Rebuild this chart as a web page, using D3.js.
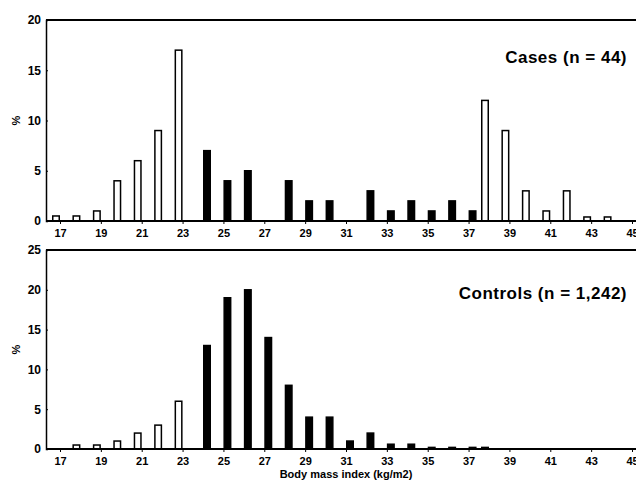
<!DOCTYPE html>
<html>
<head>
<meta charset="utf-8">
<script src="https://cdn.jsdelivr.net/npm/d3@7"></script>
<style>
    body { margin: 0; background: #fff; }
    text { font-family: Arial, "Liberation Sans", sans-serif; font-weight: bold; fill: #000; }
</style>
</head>
<body>
<div id="chart"></div>
<script>
// BMI categories (kg/m2)
const bmi = [17, 18, 19, 20, 21, 22, 23, 24, 25, 26, 27, 28, 29, 30, 31,
    32, 33, 34, 35, 36, 37, 38, 39, 40, 41, 42, 43, 44, 45];

// percent of subjects in each BMI category
const casesPct = [0.5, 0.5, 1, 4, 6, 9, 17, 7, 4, 5, 0, 4, 2, 2, 0,
    3, 1, 2, 1, 2, 1, 12, 9, 3, 1, 3, 0.4, 0.4, 0];
const controlsPct = [0, 0.5, 0.5, 1, 2, 3, 6, 13, 19, 20, 14, 8, 4, 4, 1,
    2, 0.6, 0.6, 0.2, 0.2, 0.2, 0.2, 0, 0, 0, 0, 0, 0, 0];

// dark bars cover this BMI range, light bars the rest
const darkRange = [24, 37];

const xTicks = [17, 19, 21, 23, 25, 27, 29, 31, 33, 35, 37, 39, 41, 43, 45];
const casesTicks = [0, 5, 10, 15, 20];
const controlsTicks = [0, 5, 10, 15, 20, 25];

const svgWidth = 636;
const svgHeight = 480;

const svg = d3.select('#chart').append('svg')
    .attr('width', svgWidth)
    .attr('height', svgHeight);

// category centres
const xScale = d3.scaleLinear()
    .domain([17, 45])
    .range([60, 632]);

// two slots per category: light on the left, dark on the right
const slot = d3.scaleBand()
    .domain(['light', 'dark'])
    .range([-8, 8]);

const isDark = v => v >= darkRange[0] && v <= darkRange[1];

function drawPanel(values, top, bottom, yMax, yTicks, title, titleY) {
    const left = 46;
    const right = svgWidth;

    const yScale = d3.scaleLinear()
        .domain([0, yMax])
        .range([bottom, top]);

    const g = svg.append('g');

    // bars
    g.selectAll('rect')
        .data(bmi.map((b, i) => ({ bmi: b, pct: values[i] })).filter(d => d.pct > 0))
        .enter().append('rect')
        .attr('x', d => xScale(d.bmi) + slot(isDark(d.bmi) ? 'dark' : 'light') + 0.75)
        .attr('y', d => yScale(d.pct))
        .attr('width', slot.bandwidth() - 1.5)
        .attr('height', d => bottom - yScale(d.pct))
        .attr('fill', d => isDark(d.bmi) ? '#000' : '#fff')
        .attr('stroke', '#000')
        .attr('stroke-width', 1.5);

    // y axis, small ticks pointing inwards
    const yAxis = d3.axisLeft(yScale)
        .tickValues(yTicks)
        .tickSize(-2)
        .tickPadding(5);
    const yg = g.append('g')
        .attr('transform', `translate(${left},0)`)
        .call(yAxis);
    yg.select('.domain').attr('stroke', '#000').attr('stroke-width', 1.5);
    yg.selectAll('text').style('font-size', '12px');

    // x axis
    const xAxis = d3.axisBottom(xScale)
        .tickValues(xTicks)
        .tickSize(3)
        .tickPadding(5);
    const xg = g.append('g')
        .attr('transform', `translate(0,${bottom})`)
        .call(xAxis);
    xg.select('.domain').remove();
    xg.selectAll('text').style('font-size', '11px');

    // baseline and top frame line
    g.append('line')
        .attr('x1', left).attr('x2', right)
        .attr('y1', bottom).attr('y2', bottom)
        .attr('stroke', '#000').attr('stroke-width', 2);
    g.append('line')
        .attr('x1', left).attr('x2', right)
        .attr('y1', top).attr('y2', top)
        .attr('stroke', '#000').attr('stroke-width', 2);

    // % label
    g.append('text')
        .attr('transform', `translate(20,${(top + bottom) / 2}) rotate(-90)`)
        .attr('text-anchor', 'middle')
        .style('font-size', '11px')
        .text('%');

    // panel title
    g.append('text')
        .attr('x', 627)
        .attr('y', titleY)
        .attr('text-anchor', 'end')
        .style('font-size', '17px')
        .style('letter-spacing', '0.5px')
        .text(title);
}

drawPanel(casesPct, 20, 221, 20, casesTicks, 'Cases (n = 44)', 63);
drawPanel(controlsPct, 250, 449, 25, controlsTicks, 'Controls (n = 1,242)', 299);

svg.append('text')
    .attr('x', 346)
    .attr('y', 478)
    .attr('text-anchor', 'middle')
    .style('font-size', '11px')
    .text('Body mass index (kg/m2)');
</script>
</body>
</html>
